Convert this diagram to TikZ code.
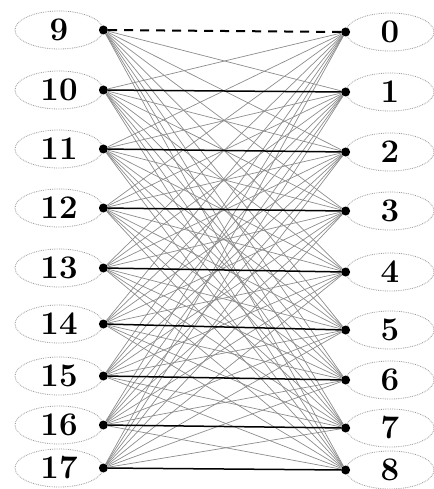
\documentclass[tikz,border=0pt]{standalone}
\usepackage{tikz}
\usetikzlibrary{shapes.geometric}

\begin{document}
\begin{tikzpicture}[x=1pt,y=-1pt,
  vert/.style={ellipse,draw=gray!80,densely dotted,line width=0.8pt,minimum width=88pt,minimum height=38pt,inner sep=0pt,font=\fontsize{33}{33}\selectfont\bfseries},
  dot/.style={circle,fill=black,inner sep=0pt,minimum size=9pt},
  edge/.style={gray!90,line width=0.7pt}]
\useasboundingbox (0,0) rectangle (433,489);
% left column
\foreach \n/\y in {9/30,10/90,11/149,12/208,13/268,14/324,15/376,16/425,17/468}{
  \node[vert] (e\n) at (59,\y) {\n};
  \node[dot] (v\n) at (e\n.east) {};
}
% right column
\foreach \n/\y in {0/32,1/92,2/152,3/211,4/272,5/330,6/380,7/428,8/470}{
  \node[vert] (e\n) at (390,\y) {\n};
  \node[dot] (v\n) at (e\n.west) {};
}
% all pairs
\foreach \a in {9,...,17}{
  \foreach \b in {0,...,8}{
    \ifnum\numexpr\a-\b\relax=9
    \else
      \draw[edge] (v\a) -- (v\b);
    \fi
  }
}
\draw[line width=2pt,dash pattern=on 9pt off 7pt] (v9) -- (v0);
\foreach \a/\b in {10/1,11/2,12/3,13/4,14/5,15/6,16/7,17/8}
  \draw[line width=1.5pt] (v\a) -- (v\b);
\end{tikzpicture}
\end{document}
